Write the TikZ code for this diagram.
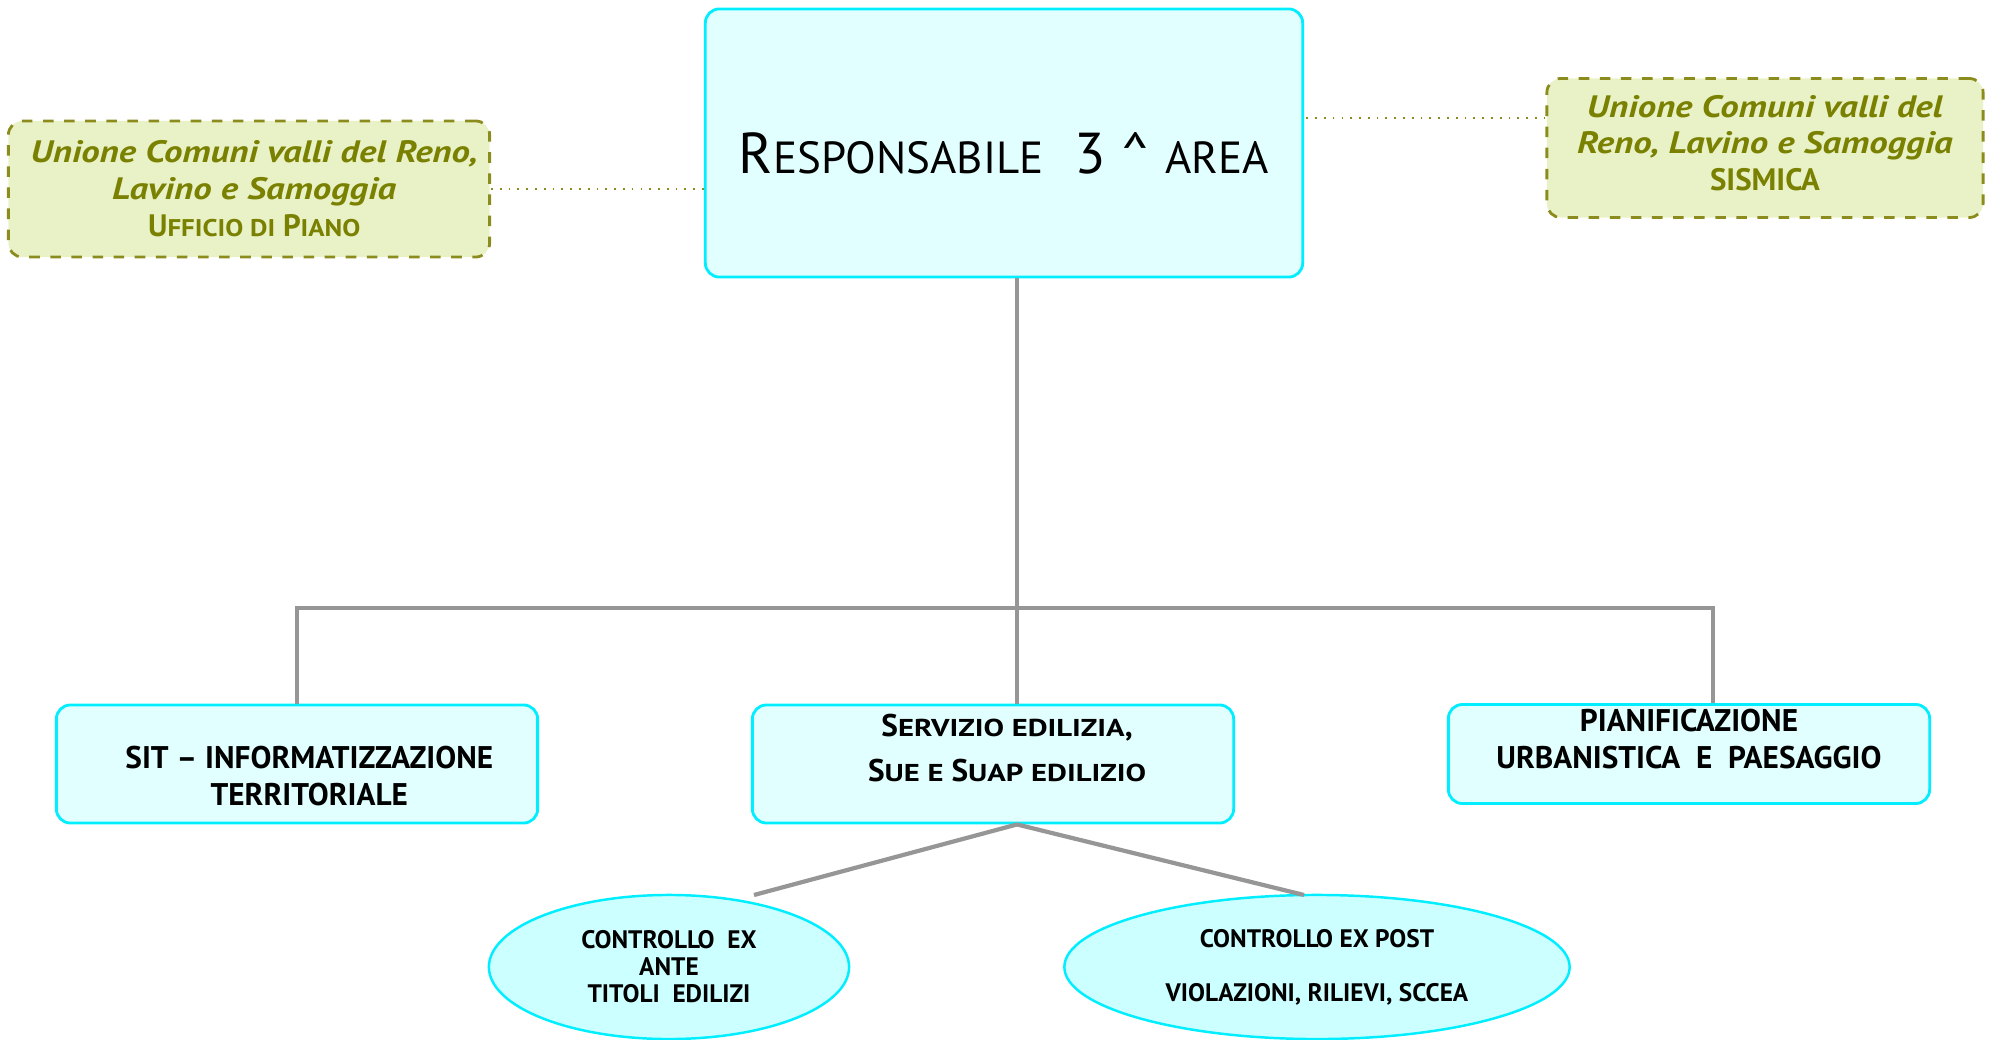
\documentclass[tikz,border=0pt]{standalone}
\usepackage[usenames,dvipsnames]{xcolor}
\usepackage{graphicx}
\usepackage{fontspec}
\setmainfont{PT Sans}
\usepackage{tikz}
\usetikzlibrary{shapes.geometric}

\definecolor{areaedge}{RGB}{0,238,255}
\definecolor{areafill}{RGB}{226,255,255}
\definecolor{ctrlfill}{RGB}{204,255,255}
\definecolor{unioneedge}{RGB}{140,140,30}
\definecolor{unionefill}{RGB}{232,242,198}
\definecolor{unionetext}{RGB}{122,128,0}
\definecolor{linkgray}{RGB}{150,150,150}

\newcommand{\lc}[2][0.78]{\scalebox{#1}[0.78]{#2}}
\newcommand{\wideit}[1]{\scalebox{1.19}[1]{\textit{#1}}}
\newcommand{\titlefont}{\fontsize{16.4}{20}\selectfont}
\newcommand{\boxfont}{\fontsize{8.9}{10.5}\selectfont\bfseries}
\newcommand{\unionefont}{\fontsize{8.8}{10.5}\selectfont\bfseries\color{unionetext}}
\newcommand{\ctrlfont}{\fontsize{7.2}{7.7}\selectfont\bfseries}

\tikzset{
 areabox/.style={draw=areaedge,line width=0.8pt,fill=areafill,rounded corners=4pt,align=center,inner sep=0pt},
 unionebox/.style={draw=unioneedge,dashed,line width=0.8pt,fill=unionefill,rounded corners=4pt,align=center,inner sep=0pt,font=\unionefont},
 ctrl/.style={ellipse,draw=areaedge,line width=0.7pt,fill=ctrlfill,align=center,inner sep=0pt,font=\ctrlfont},
 link/.style={draw=linkgray,line width=1.2pt},
 dotlink/.style={draw=unioneedge,dotted,line width=0.5pt}
}

\begin{document}
\begin{tikzpicture}[x=0.01cm,y=-0.01cm]
 \useasboundingbox (0,0) rectangle (1991,1040);

 \draw (1004,143) node[areabox,minimum width=5.97cm,minimum height=2.68cm,font=\titlefont] (resp) {\mbox{}\\[-2.7pt]R\lc{ESPONSABILE}\ \ 3 \textasciicircum\ \lc{AREA}};
 \draw (249,189) node[unionebox,minimum width=4.81cm,minimum height=1.36cm] (ufficio) {\hspace*{3pt}\wideit{Unione Comuni valli del Reno,}\\\hspace*{3pt}\wideit{Lavino e Samoggia}\\\hspace*{3pt}U\lc[0.87]{FFICIO DI} P\lc[0.87]{IANO}};
 \draw (1765,148) node[unionebox,minimum width=4.36cm,minimum height=1.39cm] (sismica) {\wideit{Unione Comuni valli del}\\\wideit{Reno, Lavino e Samoggia}\\SISMICA\\[-7.6pt]\mbox{}};

 \draw (297,764) node[areabox,minimum width=4.81cm,minimum height=1.18cm,font=\boxfont] (sit) {\mbox{}\\[2.6pt]\hspace*{7pt}SIT -- INFORMATIZZAZIONE\\\hspace*{7pt}TERRITORIALE};
 \draw (993,764) node[areabox,minimum width=4.81cm,minimum height=1.18cm,font=\boxfont] (servizio) {\hspace*{8pt}S\lc[0.98]{ERVIZIO EDILIZIA},\\[2.3pt]\hspace*{8pt}S\lc[0.98]{UE E} S\lc[0.98]{UAP EDILIZIO}\\[-1.4pt]\mbox{}};
 \draw (1689,754) node[areabox,minimum width=4.81cm,minimum height=0.99cm,font=\boxfont] (pianif) {PIANIFICAZIONE\\URBANISTICA\ \ E\ \ PAESAGGIO\\[-2pt]\mbox{}};

 \draw (669,967) node[ctrl,minimum width=3.60cm,minimum height=1.44cm] (exante) {CONTROLLO\ \ EX\\ANTE\\TITOLI\ \ EDILIZI};
 \draw (1317,967) node[ctrl,minimum width=5.05cm,minimum height=1.44cm] (expost) {CONTROLLO EX POST\\[7.7pt]VIOLAZIONI, RILIEVI, SCCEA};

 \coordinate (hub) at (1017,608);
 \coordinate (barL) at (297,608);
 \coordinate (barR) at (1713,608);
 \coordinate (anteTop) at (754,895);
 \coordinate (postTop) at (1304,895);
 \coordinate (sisL) at ([yshift=0.30cm]sismica.west);

 \path[dotlink] (ufficio.east) edge (ufficio.east -| resp.west);
 \path[dotlink] (sisL) edge (sisL -| resp.east);

 \path[link] (resp.south -| hub) edge (hub |- servizio.north);
 \draw[link] (sit.north -| barL) -- (barL) -- (barR) -- (barR |- pianif.north);
 \path[link] (servizio.south -| hub) edge (anteTop);
 \path[link] (servizio.south -| hub) edge (postTop);
\end{tikzpicture}
\end{document}
